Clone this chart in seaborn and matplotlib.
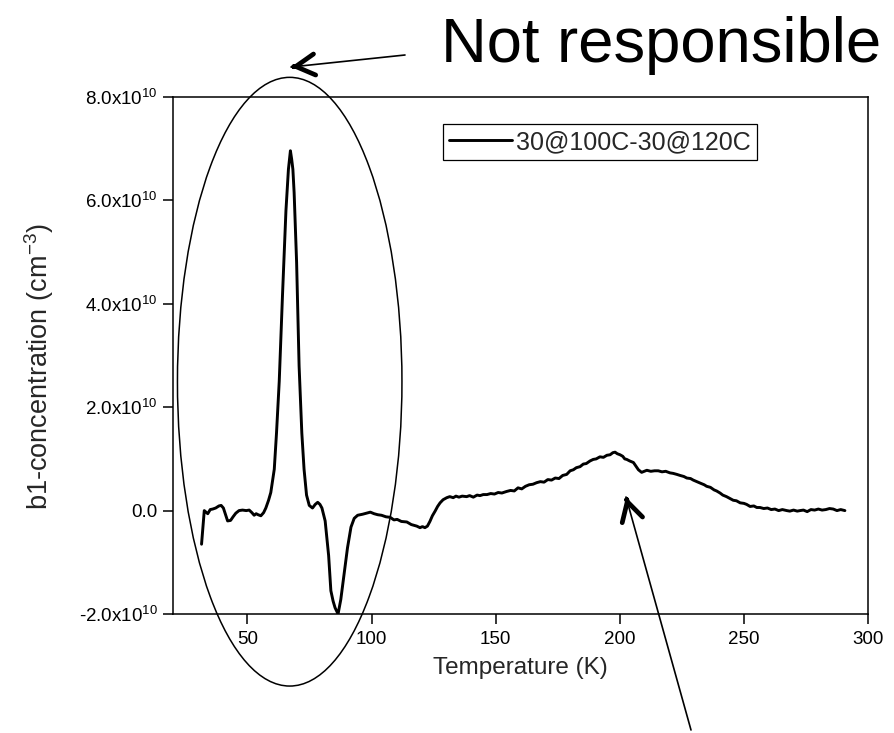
import numpy as np
import pandas as pd
import matplotlib
matplotlib.use("Agg")
import matplotlib.pyplot as plt
from matplotlib.patches import Ellipse
import seaborn as sns

# ---- data (temperature in K, concentration in units of 1e10 cm^-3) ----
temperature = [
    31.5, 32.6, 33.3, 34.0, 35.0, 36.0, 37.2, 38.5, 39.4, 40.3, 41.2, 42.0, 43.2, 44.2,
    45.3, 46.6, 48.0, 49.5, 50.7, 51.8, 52.7, 53.5, 54.3, 55.4, 56.5, 57.4, 58.5, 59.4,
    60.2, 60.8, 61.7, 62.8, 64.1, 65.5, 66.5, 67.3, 67.8, 68.3, 68.8, 69.8, 70.8, 71.9,
    72.8, 73.8, 74.9, 76.2, 77.3, 78.3, 79.2, 80.0, 81.3, 82.7, 83.6, 84.5, 85.3, 86.5,
    87.6, 89.0, 90.3, 91.7, 93.0, 94.4, 96.4, 98.0, 99.5, 101.0, 102.5, 104.0, 105.8,
    107.5, 109.0, 110.3, 112.0, 114.2, 116.0, 118.2, 119.5, 120.5, 121.5, 122.5, 123.5,
    124.5, 125.6, 126.6, 127.6, 128.8, 130.3, 131.5, 132.9, 134.0, 135.2, 136.5, 138.3,
    139.5, 141.0, 142.5, 143.7, 145.0, 146.5, 148.0, 149.5, 151.0, 152.5, 154.4, 156.0,
    157.5, 159.0, 160.5, 162.0, 163.5, 165.0, 166.5, 168.0, 169.5, 171.0, 172.5, 174.0,
    175.5, 177.0, 178.6, 180.0, 181.3, 182.5, 184.0, 185.3, 186.5, 188.0, 189.3, 190.5,
    192.0, 193.4, 194.8, 196.1, 197.2, 198.1, 199.0, 200.1, 201.2, 202.0, 202.8, 204.0,
    205.5, 206.5, 207.5, 208.8, 209.8, 210.9, 212.5, 214.0, 215.5, 217.0, 218.5, 220.2,
    221.5, 223.0, 224.3, 225.8, 227.0, 228.5, 229.6, 231.0, 232.5, 234.0, 235.0, 236.5,
    238.0, 239.0, 240.4, 241.5, 243.0, 244.5, 245.7, 247.0, 248.5, 250.0, 251.1, 252.5,
    254.0, 255.2, 256.5, 258.0, 259.5, 261.0, 262.5, 264.0, 265.5, 267.3, 268.5, 270.0,
    271.5, 272.6, 274.0, 275.5, 277.0, 278.5, 280.0, 281.5, 283.0, 284.5, 286.0, 287.5,
    289.0, 290.7,
]
concentration_e10 = [
    -0.65, 0.0, -0.03, -0.06, 0.02, 0.03, 0.05, 0.09, 0.10, 0.05, -0.08, -0.20, -0.19, -0.12,
    -0.05, 0.0, 0.01, 0.0, 0.01, -0.04, -0.09, -0.06, -0.08, -0.10, -0.04, 0.05, 0.20, 0.35,
    0.60, 0.80, 1.50, 2.50, 4.15, 5.80, 6.60, 6.96, 6.80, 6.60, 6.15, 4.80, 2.80, 1.50,
    0.80, 0.30, 0.10, 0.05, 0.12, 0.16, 0.12, 0.05, -0.20, -0.87, -1.55, -1.75, -1.88, -2.0,
    -1.72, -1.20, -0.72, -0.32, -0.15, -0.09, -0.07, -0.05, -0.03, -0.06, -0.08, -0.09, -0.12,
    -0.13, -0.18, -0.17, -0.21, -0.22, -0.27, -0.30, -0.33, -0.31, -0.33, -0.30, -0.21,
    -0.10, -0.01, 0.08, 0.15, 0.21, 0.25, 0.27, 0.25, 0.28, 0.26, 0.28, 0.27,
    0.29, 0.26, 0.30, 0.29, 0.31, 0.31, 0.33, 0.32, 0.35, 0.34, 0.37, 0.39,
    0.38, 0.44, 0.42, 0.47, 0.50, 0.51, 0.54, 0.56, 0.55, 0.60, 0.59, 0.63,
    0.62, 0.68, 0.70, 0.77, 0.79, 0.83, 0.85, 0.90, 0.91, 0.96, 0.99, 1.00,
    1.04, 1.03, 1.07, 1.08, 1.12, 1.13, 1.10, 1.08, 1.05, 1.00, 0.99, 0.96,
    0.93, 0.86, 0.79, 0.74, 0.76, 0.78, 0.76, 0.77, 0.77, 0.75, 0.76, 0.73,
    0.72, 0.70, 0.68, 0.66, 0.63, 0.62, 0.59, 0.56, 0.53, 0.50, 0.47, 0.45,
    0.40, 0.38, 0.34, 0.30, 0.27, 0.23, 0.20, 0.19, 0.15, 0.14, 0.12, 0.08,
    0.09, 0.06, 0.06, 0.04, 0.05, 0.02, 0.03, 0.0, 0.02, 0.0, -0.01, 0.01,
    -0.01, 0.0, 0.01, -0.02, 0.02, 0.01, 0.03, 0.01, 0.02, 0.04, 0.03, 0.0,
    0.02, 0.0,
]
series_label = "30@100C-30@120C"
x_ticks = [50, 100, 150, 200, 250, 300]
y_ticks_e10 = [-2, 0, 2, 4, 6, 8]
y_tick_labels = ["-2.0x10$^{10}$", "0.0", "2.0x10$^{10}$", "4.0x10$^{10}$",
                 "6.0x10$^{10}$", "8.0x10$^{10}$"]
x_label = "Temperature (K)"
y_label = "b1-concentration (cm$^{-3}$)"
note_text = "Not responsible"

df = pd.DataFrame({"T": temperature,
                   "conc": np.array(concentration_e10) * 1e10})

sns.set_theme(style="ticks")
plt.rcParams["font.family"] = ["Liberation Sans", "DejaVu Sans"]
plt.rcParams["mathtext.fontset"] = "custom"
plt.rcParams["mathtext.rm"] = "Liberation Sans"
plt.rcParams["mathtext.it"] = "Liberation Sans:italic"
plt.rcParams["mathtext.bf"] = "Liberation Sans:bold"
plt.rcParams["mathtext.default"] = "regular"

W, H = 894, 733
fig = plt.figure(figsize=(W / 100, H / 100), dpi=100)
ax = fig.add_subplot(111)
fig.subplots_adjust(left=173 / W, right=868 / W, bottom=1 - 614 / H, top=1 - 97 / H)

sns.lineplot(data=df, x="T", y="conc", ax=ax, color="black", lw=2.1,
             sort=False, estimator=None, label=series_label)

ax.set_xlim(20, 300)
ax.set_ylim(-2e10, 8e10)
ax.set_xticks(x_ticks)
ax.set_xticklabels([str(t) for t in x_ticks])
ax.set_yticks([v * 1e10 for v in y_ticks_e10])
ax.set_yticklabels(y_tick_labels)
ax.tick_params(axis="both", direction="out", length=7, width=1.1,
               labelsize=13.5, colors="black")
ax.tick_params(axis="x", pad=5)
ax.tick_params(axis="y", pad=4)
for s in ax.spines.values():
    s.set_visible(True)
    s.set_linewidth(1.1)
    s.set_color("black")

ax.set_xlabel(x_label, fontsize=17.5, labelpad=7)
ax.set_ylabel(y_label, fontsize=19.5)
ax.yaxis.set_label_coords(-0.168, 0.478)

leg = ax.legend(loc="upper left", bbox_to_anchor=(0.3885, 0.948), borderaxespad=0,
                frameon=True, fancybox=False, edgecolor="black", framealpha=1,
                fontsize=18, handlelength=2.5, handletextpad=0.15, borderpad=0.25)
leg.get_frame().set_linewidth(0.9)

# big annotation text
fig.text(441 / W, 1 - 62 / H, note_text, fontsize=45.6, ha="left", va="baseline",
         color="black")

# ellipse around the low-temperature region (figure coordinates)
ell = Ellipse((289.7 / W, 1 - 381.7 / H), 224.5 / W, 608.7 / H,
              transform=fig.transFigure, fill=False, edgecolor="black", lw=1.1)
fig.add_artist(ell)


def draw_arrow(tail, tip):
    tail = (tail[0], H - tail[1])
    tip = (tip[0], H - tip[1])
    ax.annotate("", xy=tip, xytext=tail, xycoords="figure pixels",
                textcoords="figure pixels", annotation_clip=False,
                arrowprops=dict(arrowstyle="-", lw=1.2, color="black",
                                shrinkA=0, shrinkB=0))
    d = np.array(tail) - np.array(tip)
    d = d / np.hypot(*d)
    near = (tip[0] + 3 * d[0], tip[1] + 3 * d[1])
    ax.annotate("", xy=tip, xytext=near, xycoords="figure pixels",
                textcoords="figure pixels", annotation_clip=False,
                arrowprops=dict(arrowstyle="->,head_length=0.68,head_width=0.38",
                                lw=3.4, color="black", mutation_scale=20,
                                shrinkA=0, shrinkB=0))


draw_arrow((405, 55), (291, 67))
draw_arrow((691, 730), (626, 497))

fig.savefig("out.png", dpi=100)
